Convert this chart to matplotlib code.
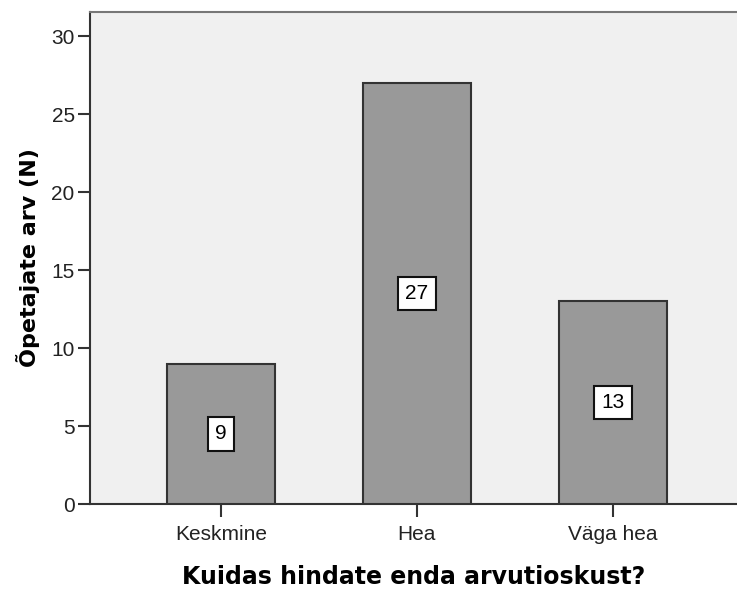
import matplotlib
matplotlib.use("Agg")
import matplotlib.pyplot as plt
import numpy as np

plt.rcParams['font.family'] = ['Liberation Sans', 'DejaVu Sans']

# data
categories = ["Keskmine", "Hea", "Väga hea"]
counts = [9, 27, 13]
y_ticks = [0, 5, 10, 15, 20, 25, 30]

fig = plt.figure(figsize=(7.37, 5.91), dpi=100)
ax = fig.add_axes([90 / 737, 87 / 591, 647 / 737, 492 / 591])
ax.set_facecolor("#f0f0f0")

x = np.arange(len(categories))
bars = ax.bar(x, counts, width=0.55, color="#999999", edgecolor="#333333",
              linewidth=1.5, zorder=3)

# value labels in white boxes, middle of each bar
for xi, c in zip(x, counts):
    ax.text(xi, c / 2, str(c), ha='center', va='center', fontsize=15, color="black",
            zorder=4,
            bbox=dict(boxstyle="square,pad=0.35", facecolor="white",
                      edgecolor="#111111", linewidth=1.5))

ax.set_xlim(-0.668, 2.633)
ax.set_ylim(0, 31.54)
ax.set_yticks(y_ticks)
ax.set_xticks(x)
ax.set_xticklabels(categories)

for side in ["left", "bottom", "top"]:
    ax.spines[side].set_color("#333333")
    ax.spines[side].set_linewidth(1.5)
ax.spines["right"].set_visible(False)
ax.spines["top"].set_color("#777777")

ax.tick_params(axis='both', direction='out', length=9, width=1.5, color="#333333",
               labelsize=15, labelcolor="#222222", pad=2)
ax.tick_params(axis='x', pad=6)

ax.set_ylabel("Õpetajate arv (N)", fontsize=16, fontweight='bold', labelpad=8,
              family=['DejaVu Sans'])
ax.set_xlabel("Kuidas hindate enda arvutioskust?", fontsize=17, fontweight='bold',
              labelpad=15, family=['DejaVu Sans'])

fig.savefig("out.png", dpi=100, facecolor="white")
